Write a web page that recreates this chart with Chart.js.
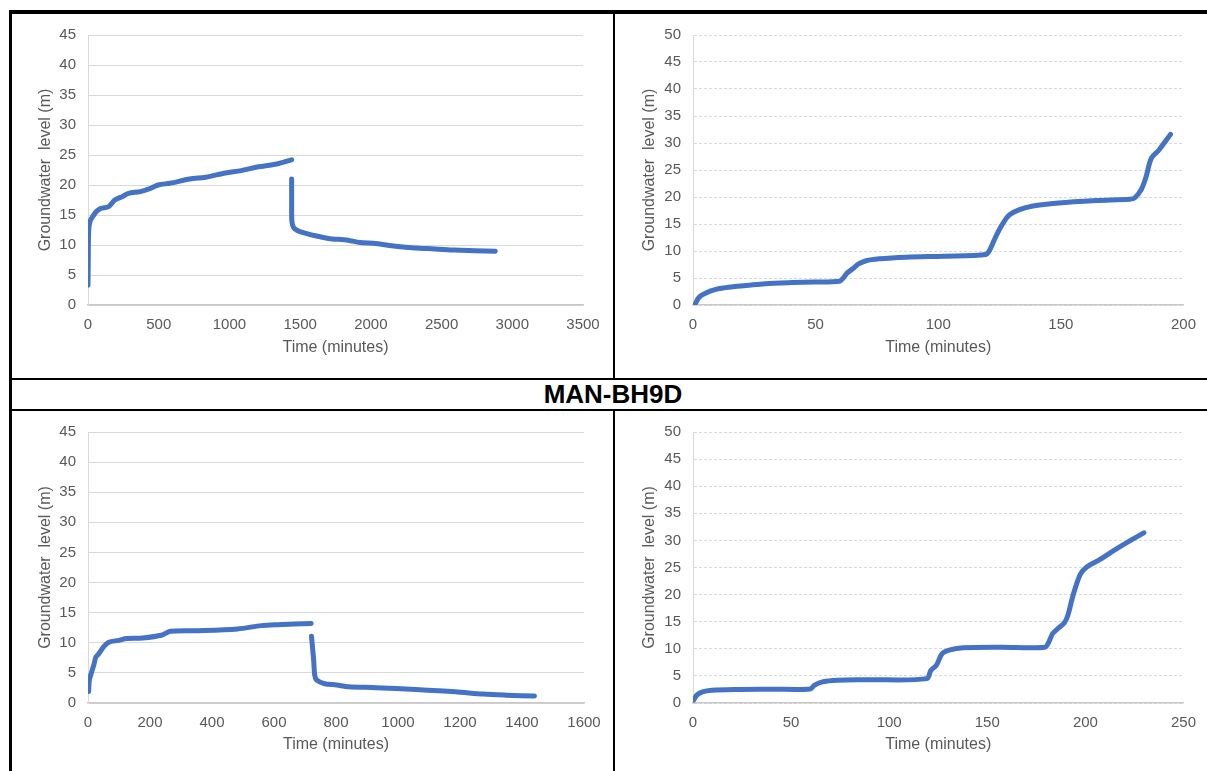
<!DOCTYPE html>
<html>

<head>
    <title>MAN-BH9D</title>
    <meta name="viewport" content="width=device-width, initial-scale=1.0">
    <script src="https://cdn.jsdelivr.net/npm/chart.js@4.4.0/dist/chart.umd.min.js"></script>
    <style>
        body {
            margin: 0;
            background: #fff;
            width: 1207px;
            height: 771px;
            overflow: hidden;
            position: relative;
            font-family: "Liberation Sans", Arial, sans-serif;
        }

        .line {
            position: absolute;
            background: #000;
        }

        .box {
            position: absolute;
        }

        .title {
            position: absolute;
            left: 413px;
            top: 379px;
            width: 400px;
            line-height: 30px;
            text-align: center;
            font-weight: bold;
            font-size: 26px;
            color: #000;
        }
    </style>
</head>

<body>
    <!-- khung bảng -->
    <div class="line" style="left:9px; top:10px; width:1198px; height:4px;"></div>
    <div class="line" style="left:9px; top:10px; width:3px; height:761px;"></div>
    <div class="line" style="left:613px; top:14px; width:2px; height:365px;"></div>
    <div class="line" style="left:12px; top:378px; width:1195px; height:2px;"></div>
    <div class="line" style="left:12px; top:409px; width:1195px; height:2px;"></div>
    <div class="line" style="left:613px; top:411px; width:2px; height:360px;"></div>
    <div class="title">MAN-BH9D</div>

    <div class="box" style="left:12px; top:14px; width:601px; height:364px;"><canvas id="chart1"></canvas></div>
    <div class="box" style="left:615px; top:14px; width:592px; height:364px;"><canvas id="chart2"></canvas></div>
    <div class="box" style="left:12px; top:411px; width:601px; height:360px;"><canvas id="chart3"></canvas></div>
    <div class="box" style="left:615px; top:411px; width:592px; height:360px;"><canvas id="chart4"></canvas></div>

    <script>
        // chart 1 - bơm + hồi phục (0 - 2880 phút)
        var pump1Time = [0, 2, 5, 15, 35, 60, 91, 146, 189, 245, 286, 370, 426, 496, 580, 720, 832, 972, 1083, 1195, 1335, 1440];
        var pump1Level = [3.3, 8, 12.5, 14, 14.8, 15.6, 16.1, 16.4, 17.5, 18.1, 18.6, 18.9, 19.3, 20.0, 20.3, 21.0, 21.3, 22.0, 22.4, 23.0, 23.5, 24.2];
        var rec1Time = [1440, 1440, 1441, 1448, 1461, 1503, 1615, 1699, 1839, 1922, 2034, 2174, 2314, 2454, 2593, 2733, 2880];
        var rec1Level = [21.0, 17.5, 14.2, 13.2, 12.7, 12.2, 11.5, 11.1, 10.8, 10.4, 10.25, 9.8, 9.5, 9.35, 9.15, 9.05, 8.95];

        // chart 2 - bơm bậc (0 - 200 phút)
        var step2Time = [1, 2.3, 4.6, 9.3, 15.5, 21.7, 29.4, 40.3, 49.6, 59.7, 61.3, 62.8, 65.1, 67.5, 70.6, 76, 86.9, 102.4, 119.4, 121, 123.3, 125.7, 128.8, 133.4, 138.1, 149, 164.5, 178, 180, 182.8, 184.6, 186.9, 190, 194.7];
        var step2Level = [0.3, 1.35, 2.1, 2.9, 3.35, 3.6, 3.95, 4.15, 4.25, 4.4, 5.0, 5.9, 6.7, 7.6, 8.2, 8.55, 8.85, 9.05, 9.35, 10.2, 12.5, 14.6, 16.6, 17.7, 18.3, 18.9, 19.35, 19.6, 19.8, 21.4, 23.5, 27.2, 28.7, 31.6];

        // chart 3 - bơm + hồi phục (0 - 1440 phút)
        var pump3Time = [2, 4.4, 12, 19.7, 25, 35, 50, 67, 99, 125, 176, 240, 265, 355, 482, 559, 610, 720];
        var pump3Level = [1.9, 3.8, 5.2, 6.5, 7.6, 8.2, 9.3, 10.1, 10.4, 10.7, 10.8, 11.3, 11.9, 12.0, 12.3, 12.85, 13.0, 13.2];
        var rec3Time = [721, 728, 731.5, 738, 763, 802, 840, 930, 1057, 1185, 1275, 1351, 1440];
        var rec3Level = [11.1, 7.1, 4.6, 3.8, 3.2, 3.0, 2.7, 2.55, 2.25, 1.87, 1.48, 1.3, 1.15];

        // chart 4 - bơm bậc (0 - 250 phút)
        var step4Time = [0.4, 1.9, 4.8, 9.7, 21, 41, 59.7, 62, 66, 73.6, 89, 119.2, 121.2, 124.1, 127, 131, 137.7, 157, 179.4, 181.3, 183.3, 186.2, 189.1, 191, 193.9, 197.4, 200.7, 207.5, 215.2, 223.9, 229.8];
        var step4Level = [0.55, 1.45, 2.05, 2.35, 2.5, 2.55, 2.6, 3.3, 3.9, 4.2, 4.3, 4.5, 6.0, 7.0, 9.1, 9.8, 10.2, 10.3, 10.3, 11.2, 12.8, 13.8, 14.7, 16.1, 20.1, 23.75, 25.1, 26.5, 28.3, 30.2, 31.4];

        var xLabel = 'Time (minutes)';
        var yLabel = 'Groundwater  level (m)';

        Chart.defaults.font.family = '"Liberation Sans", Arial, sans-serif';
        Chart.defaults.color = '#595959';

        function toPoints(xs, ys) {
            return xs.map(function (x, i) { return { x: x, y: ys[i] }; });
        }

        function series(xs, ys) {
            return {
                data: toPoints(xs, ys),
                borderColor: '#4472c4',
                borderWidth: 5,
                borderCapStyle: 'round',
                borderJoinStyle: 'round',
                pointRadius: 0,
                tension: 0.3,
                fill: false
            };
        }

        // không dùng dấu phẩy hàng nghìn
        function plainTick(value) {
            return String(value);
        }

        // cfg: id, datasets, xMax, xStep, yMax, dashed, top, right, left, axisH, yTitlePad, xTitlePad
        function makeChart(cfg) {
            return new Chart(document.getElementById(cfg.id), {
                type: 'line',
                data: { datasets: cfg.datasets },
                options: {
                    responsive: true,
                    maintainAspectRatio: false,
                    animation: false,
                    layout: { padding: { top: cfg.top, right: cfg.right, left: 0, bottom: 0 } },
                    plugins: { legend: { display: false }, tooltip: { enabled: false } },
                    scales: {
                        x: {
                            type: 'linear',
                            min: 0,
                            max: cfg.xMax,
                            grid: { display: false, drawTicks: false },
                            border: { display: true, color: '#c8c8c8', width: 1.5 },
                            ticks: { stepSize: cfg.xStep, padding: 11, font: { size: 15 }, callback: plainTick },
                            title: { display: true, text: xLabel, font: { size: 16 }, padding: { top: 0, bottom: cfg.xTitlePad } },
                            afterFit: function (scale) { scale.height = cfg.axisH; }
                        },
                        y: {
                            min: 0,
                            max: cfg.yMax,
                            grid: { color: '#d9d9d9', drawTicks: false },
                            border: { display: true, color: '#d9d9d9', width: 1, dash: cfg.dashed ? [3, 2] : [] },
                            ticks: { stepSize: 5, padding: 12, font: { size: 15 }, callback: plainTick },
                            title: { display: true, text: yLabel, font: { size: 16 }, padding: { top: cfg.yTitlePad, bottom: 0 } },
                            afterFit: function (scale) { scale.width = cfg.left; }
                        }
                    }
                }
            });
        }

        makeChart({
            id: 'chart1', datasets: [series(pump1Time, pump1Level), series(rec1Time, rec1Level)],
            xMax: 3500, xStep: 500, yMax: 45, dashed: false,
            top: 18, right: 30, left: 76, axisH: 73, yTitlePad: 23.5, xTitlePad: 20.5
        });
        makeChart({
            id: 'chart2', datasets: [series(step2Time, step2Level)],
            xMax: 200, xStep: 50, yMax: 50, dashed: true,
            top: 18, right: 15, left: 78, axisH: 73, yTitlePad: 25, xTitlePad: 20.5
        });
        makeChart({
            id: 'chart3', datasets: [series(pump3Time, pump3Level), series(rec3Time, rec3Level)],
            xMax: 1600, xStep: 200, yMax: 45, dashed: false,
            top: 19, right: 29, left: 76, axisH: 68, yTitlePad: 24, xTitlePad: 16.5
        });
        makeChart({
            id: 'chart4', datasets: [series(step4Time, step4Level)],
            xMax: 250, xStep: 50, yMax: 50, dashed: true,
            top: 19, right: 15, left: 78, axisH: 68, yTitlePad: 25, xTitlePad: 16.5
        });
    </script>
</body>

</html>
